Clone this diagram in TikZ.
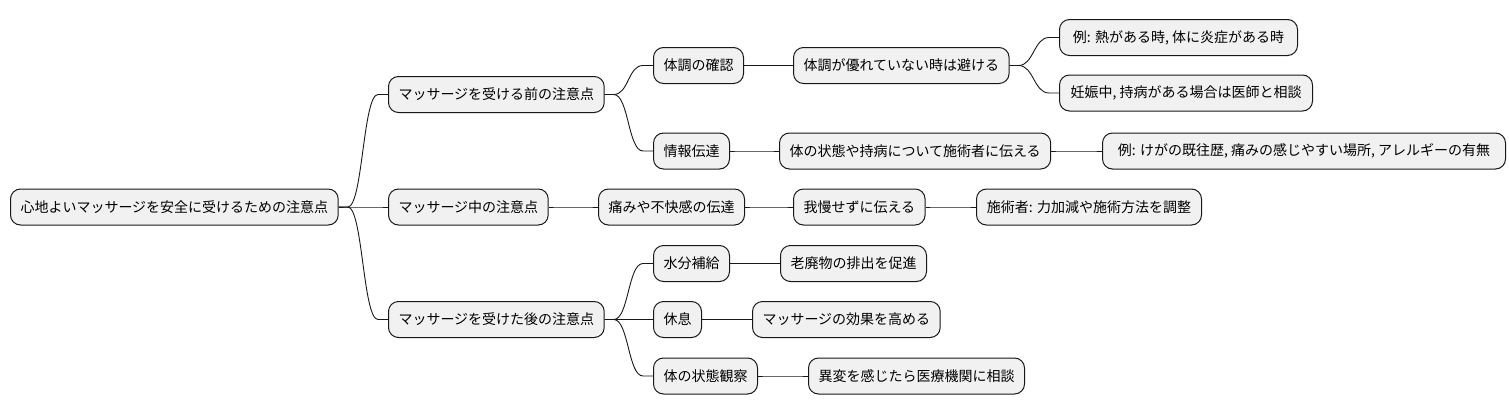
\documentclass[tikz,border=0pt]{standalone}
\usepackage{fontspec}
\setmainfont{Noto Sans CJK JP}
\definecolor{boxfill}{HTML}{F1F1F1}
\definecolor{boxline}{HTML}{181818}
\begin{document}
\begin{tikzpicture}[x=1pt,y=-1pt,
  mm/.style={draw=boxline,fill=boxfill,line width=1pt,rounded corners=10pt,
    inner xsep=10pt,inner ysep=0pt,minimum height=36pt,anchor=west,
    font=\fontsize{14pt}{17pt}\selectfont},
  link/.style={draw=boxline,line width=0.9pt}]
\useasboundingbox (0,0) rectangle (1509,415);
\node[mm] (root) at (10,207) {心地よいマッサージを安全に受けるための注意点};
\node[mm] (b1) at (388,94.5) {マッサージを受ける前の注意点};
\node[mm] (b2) at (388,207) {マッサージ中の注意点};
\node[mm] (b3) at (388,319.5) {マッサージを受けた後の注意点};
\node[mm] (c1) at (653,65.5) {体調の確認};
\node[mm] (c2) at (653,151) {情報伝達};
\node[mm] (c3) at (598,207) {痛みや不快感の伝達};
\node[mm] (c4) at (653,263.5) {水分補給};
\node[mm] (c5) at (653,319.5) {休息};
\node[mm] (c6) at (653,376) {体の状態観察};
\node[mm] (d1) at (793,65.5) {体調が優れていない時は避ける};
\node[mm] (d2) at (779,151) {体の状態や持病について施術者に伝える};
\node[mm] (d3) at (793,207) {我慢せずに伝える};
\node[mm] (d4) at (780,263.5) {老廃物の排出を促進};
\node[mm] (d5) at (752,319.5) {マッサージの効果を高める};
\node[mm] (d6) at (808,376) {異変を感じたら医療機関に相談};
\node[mm,minimum width=238pt] (e1) at (1059,37.5) {例: 熱がある時, 体に炎症がある時};
\node[mm,minimum width=253pt] (e2) at (1059,93) {妊娠中, 持病がある場合は医師と相談};
\node[mm,minimum width=403pt] (e3) at (1102,151) {例: けがの既往歴, 痛みの感じやすい場所, アレルギーの有無};
\node[mm,minimum width=225pt] (e4) at (976,207) {施術者: 力加減や施術方法を調整};
\foreach \p/\c in {root/b1,root/b2,root/b3,b1/c1,b1/c2,b2/c3,b3/c4,b3/c5,b3/c6,
  c1/d1,c2/d2,c3/d3,c4/d4,c5/d5,c6/d6,d1/e1,d1/e2,d2/e3,d3/e4}
  \draw[link] (\p.east) -- ++(9,0) .. controls +(15,0) and +(-15,0) .. ([xshift=-10pt]\c.west) -- (\c.west);
\end{tikzpicture}
\end{document}
